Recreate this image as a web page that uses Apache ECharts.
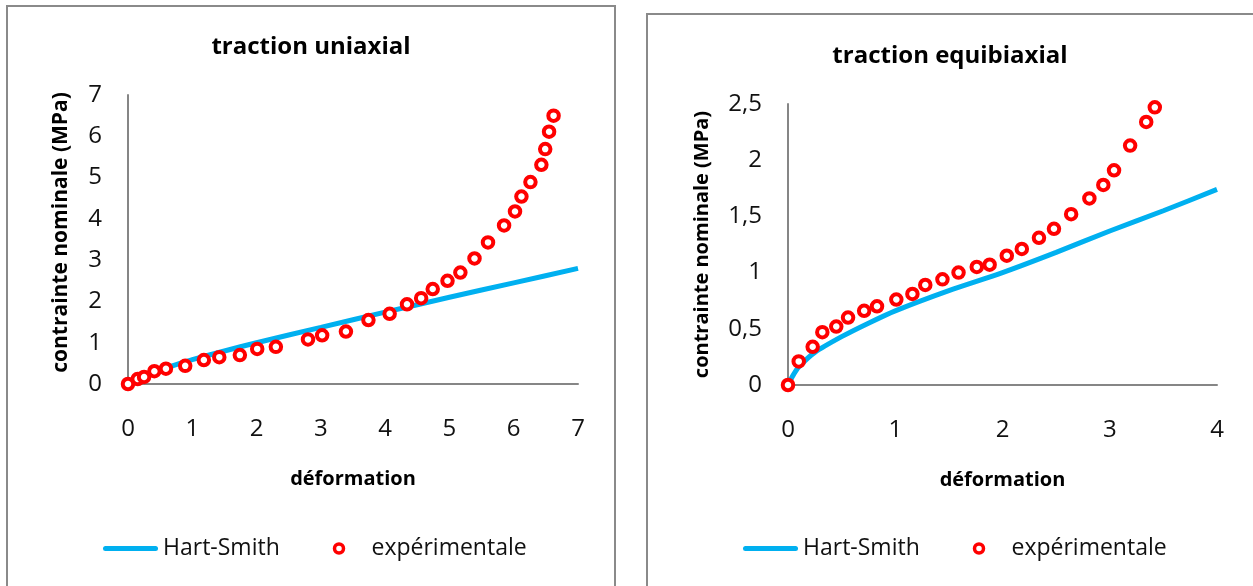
<!DOCTYPE html>
<html>
<head>
<meta charset="utf-8">
<script src="https://cdn.jsdelivr.net/npm/echarts@6/dist/echarts.min.js"></script>
<style>
  html, body { margin: 0; padding: 0; background: #ffffff; }
  #chart { width: 1253px; height: 586px; }
</style>
</head>
<body>
<div id="chart"></div>
<script>
// ---- Traction uniaxiale ----
const uniStrainExp = [0, 0.15, 0.25, 0.41, 0.59, 0.89, 1.18, 1.42, 1.74, 2.01, 2.30, 2.80, 3.02, 3.39, 3.74, 4.07,
  4.34, 4.56, 4.74, 4.97, 5.17, 5.39, 5.60, 5.85, 6.02, 6.12, 6.26, 6.43, 6.49, 6.55, 6.62];
const uniStressExp = [0, 0.12, 0.17, 0.31, 0.37, 0.44, 0.58, 0.65, 0.70, 0.85, 0.90, 1.08, 1.18, 1.27, 1.55, 1.70,
  1.93, 2.08, 2.30, 2.50, 2.70, 3.04, 3.43, 3.84, 4.18, 4.54, 4.89, 5.31, 5.69, 6.11, 6.50];
const uniStrainModel = [0, 0.1, 0.25, 0.5, 0.75, 1, 1.5, 2, 3, 4, 5, 6, 7];
const uniStressModel = [0, 0.08, 0.18, 0.34, 0.47, 0.59, 0.80, 1.00, 1.37, 1.74, 2.10, 2.45, 2.80];
const uniXTicks = [0, 1, 2, 3, 4, 5, 6, 7];
const uniYTicks = [0, 1, 2, 3, 4, 5, 6, 7];

// ---- Traction équibiaxiale ----
const biStrainExp = [0, 0.10, 0.23, 0.32, 0.45, 0.56, 0.71, 0.83, 1.01, 1.16, 1.28, 1.44, 1.59, 1.76, 1.88, 2.04,
  2.18, 2.34, 2.48, 2.64, 2.81, 2.94, 3.04, 3.19, 3.34, 3.42];
const biStressExp = [0, 0.21, 0.34, 0.47, 0.52, 0.60, 0.66, 0.70, 0.76, 0.81, 0.89, 0.94, 1.00, 1.05, 1.07, 1.15,
  1.21, 1.31, 1.39, 1.52, 1.66, 1.78, 1.91, 2.13, 2.34, 2.47];
const biStrainModel = [0, 0.05, 0.1, 0.25, 0.5, 0.75, 1, 1.5, 2, 2.5, 3, 3.5, 4];
const biStressModel = [0, 0.09, 0.16, 0.29, 0.43, 0.55, 0.66, 0.84, 1.00, 1.18, 1.37, 1.55, 1.74];
const biXTicks = [0, 1, 2, 3, 4];
const biYTicks = [0, 0.5, 1, 1.5, 2, 2.5];

const titles = ['traction uniaxial', 'traction equibiaxial'];
const xName = 'déformation';
const yName = 'contrainte nominale (MPa)';
const modelName = 'Hart-Smith';
const expName = 'expérimentale';

const FONT = "'Open Sans', 'Noto Sans', sans-serif";
const BLUE = '#00B0F0';
const RED = '#FF0000';
const AXIS_GREY = '#868686';
// rounded bar used as the legend key of the model curve
const LINE_KEY = 'path://M2.5,0 L52.5,0 A2.5,2.5 0 0 1 52.5,5 L2.5,5 A2.5,2.5 0 0 1 2.5,0 Z';

const pairs = (xs, ys) => xs.map((x, i) => [x, ys[i]]);
const commaNum = v => String(v).replace('.', ',');

function xAxisFor(gridIndex, ticks) {
  return {
    type: 'value', gridIndex,
    min: ticks[0], max: ticks[ticks.length - 1], interval: ticks[1] - ticks[0],
    name: xName, nameLocation: 'middle', nameGap: 85,
    nameTextStyle: { fontFamily: FONT, fontSize: 20, fontWeight: 'bold', color: '#000' },
    axisLine: { show: true, onZero: false, lineStyle: { color: AXIS_GREY, width: 2 } },
    axisTick: { show: false },
    splitLine: { show: false },
    axisLabel: { fontFamily: FONT, fontSize: 24, color: '#111', margin: 33, formatter: commaNum }
  };
}
function yAxisFor(gridIndex, ticks, gap, size, pad) {
  return {
    type: 'value', gridIndex,
    min: ticks[0], max: ticks[ticks.length - 1], interval: ticks[1] - ticks[0],
    name: yName, nameLocation: 'middle', nameGap: gap, nameRotate: 90,
    nameTextStyle: { fontFamily: FONT, fontSize: size, fontWeight: 'bold', color: '#000', padding: pad },
    axisLine: { show: true, onZero: false, lineStyle: { color: AXIS_GREY, width: 2 } },
    axisTick: { show: false },
    splitLine: { show: false },
    axisLabel: { fontFamily: FONT, fontSize: 24, color: '#111', margin: 26, formatter: commaNum }
  };
}
function modelSeries(idx, xs, ys) {
  return {
    type: 'line', name: modelName, xAxisIndex: idx, yAxisIndex: idx,
    data: pairs(xs, ys), symbol: 'none', smooth: 0.25,
    color: BLUE, lineStyle: { color: BLUE, width: 5 }, z: 2, silent: true
  };
}
function expSeries(idx, xs, ys) {
  return {
    type: 'scatter', name: expName, xAxisIndex: idx, yAxisIndex: idx,
    data: pairs(xs, ys), symbol: 'circle', symbolSize: 10.5,
    itemStyle: { color: '#ffffff', borderColor: RED, borderWidth: 4, opacity: 1 },
    z: 3, silent: true
  };
}
function legendFor(left) {
  return {
    left, top: 537, orient: 'horizontal', padding: 0,
    itemWidth: 55, itemHeight: 9, itemGap: 53,
    textStyle: { fontFamily: FONT, fontSize: 23, color: '#111' },
    data: [
      { name: modelName, icon: LINE_KEY, itemStyle: { color: BLUE, borderWidth: 0 } },
      { name: expName, icon: 'circle', itemStyle: { color: '#ffffff', borderColor: RED, borderWidth: 3.5 } }
    ],
    selectedMode: false
  };
}

const chart = echarts.init(document.getElementById('chart'), null, { renderer: 'canvas' });
chart.setOption({
  backgroundColor: '#ffffff',
  animation: false,
  graphic: [
    { type: 'rect', shape: { x: 7, y: 6, width: 608, height: 620 }, style: { fill: 'none', stroke: '#8a8a8a', lineWidth: 2 }, z: -10 },
    { type: 'rect', shape: { x: 647, y: 14, width: 640, height: 620 }, style: { fill: 'none', stroke: '#8a8a8a', lineWidth: 2 }, z: -10 }
  ],
  title: [
    { text: titles[0], left: 306, top: 30, textAlign: 'center',
      textStyle: { fontFamily: FONT, fontSize: 24, fontWeight: 'bold', color: '#000' } },
    { text: titles[1], left: 945, top: 39, textAlign: 'center',
      textStyle: { fontFamily: FONT, fontSize: 24, fontWeight: 'bold', color: '#000' } }
  ],
  legend: [legendFor(103), legendFor(743)],
  grid: [
    { left: 128, top: 95, width: 450, height: 289 },
    { left: 788, top: 104, width: 429, height: 281 }
  ],
  xAxis: [xAxisFor(0, uniXTicks), xAxisFor(1, biXTicks)],
  yAxis: [yAxisFor(0, uniYTicks, 56, 21, [0, 0, 0, 14]), yAxisFor(1, biYTicks, 76, 20, [0, 0, 0, 0])],
  series: [
    modelSeries(0, uniStrainModel, uniStressModel),
    expSeries(0, uniStrainExp, uniStressExp),
    modelSeries(1, biStrainModel, biStressModel),
    expSeries(1, biStrainExp, biStressExp)
  ]
});
</script>
</body>
</html>
